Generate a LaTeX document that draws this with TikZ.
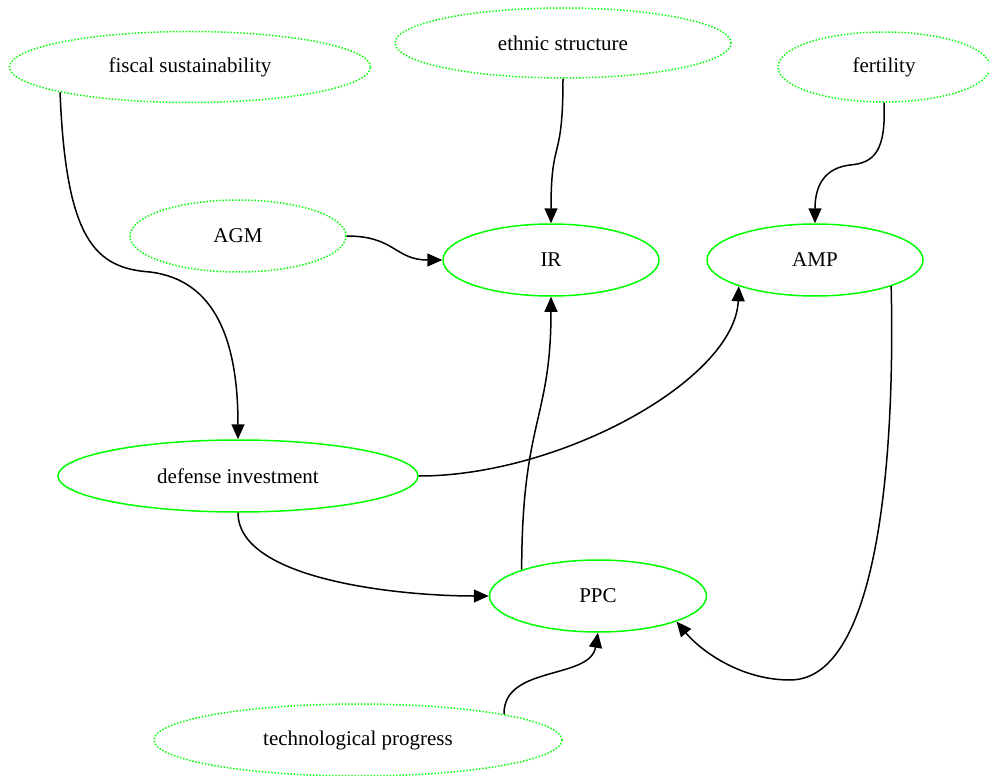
\documentclass[tikz,border=0pt]{standalone}
\usepackage{fontspec}
\setmainfont{Liberation Serif}
\usetikzlibrary{shapes.geometric,arrows.meta}
\definecolor{ngreen}{RGB}{0,255,0}
\begin{document}
\begin{tikzpicture}[x=1pt,y=-1pt,
  base/.style={ellipse, inner sep=0pt, minimum height=72pt, font=\fontsize{21}{24}\selectfont, line width=1.5pt},
  solidnode/.style={base, draw=ngreen},
  dotnode/.style={base, draw=ngreen, dash pattern=on 1.4pt off 1.8pt},
  conn/.style={line width=1.5pt, -{Triangle[length=15pt,width=13pt]}}]
\useasboundingbox (0,0) rectangle (989,776);
\node[dotnode, minimum width=361pt, minimum height=71pt] (fiscal) at (190,67) {fiscal sustainability};
\node[dotnode, minimum width=336pt, minimum height=70pt] (ethnic) at (563,43) {ethnic structure};
\node[dotnode, minimum width=212pt, minimum height=70pt] (fert) at (884,67) {fertility};
\node[dotnode, minimum width=216pt] (agm) at (238,236) {AGM};
\node[solidnode, minimum width=216pt] (ir) at (551,260) {IR};
\node[solidnode, minimum width=216pt] (amp) at (815,260) {AMP};
\node[solidnode, minimum width=360pt] (def) at (238,476) {defense investment};
\node[solidnode, minimum width=217pt] (ppc) at (598,596) {PPC};
\node[dotnode, minimum width=408pt] (tech) at (358,740) {technological progress};

\coordinate (k1) at (150,272);
\draw[conn] (fiscal.191) .. controls (66,240) and (95,268) .. (k1) .. controls (215,280) and (238,340) .. (def.north);
\draw[conn] (ethnic.south) .. controls (563,165) and (551,135) .. (ir.north);
\coordinate (k2) at (850,165);
\draw[conn] (fert.south) .. controls (886,150) and (875,163) .. (k2) .. controls (825,168) and (815,185) .. (amp.north);
\draw[conn] (agm.east) .. controls (395,236) and (395,260) .. (ir.west);
\draw[conn] (def.east) .. controls (560,476) and (735,380) .. (amp.199);
\draw[conn] (def.south) .. controls (238,580) and (400,596) .. (ppc.west);
\draw[conn] (ppc.161) .. controls (522,420) and (551,420) .. (ir.south);
\coordinate (bend) at (790,680);
\draw[conn] (amp.-19) .. controls (895,450) and (880,680) .. (bend) .. controls (740,680) and (700,650) .. (ppc.-18);
\draw[conn] (tech.10) .. controls (503,665) and (590,680) .. (ppc.south);
\end{tikzpicture}
\end{document}
